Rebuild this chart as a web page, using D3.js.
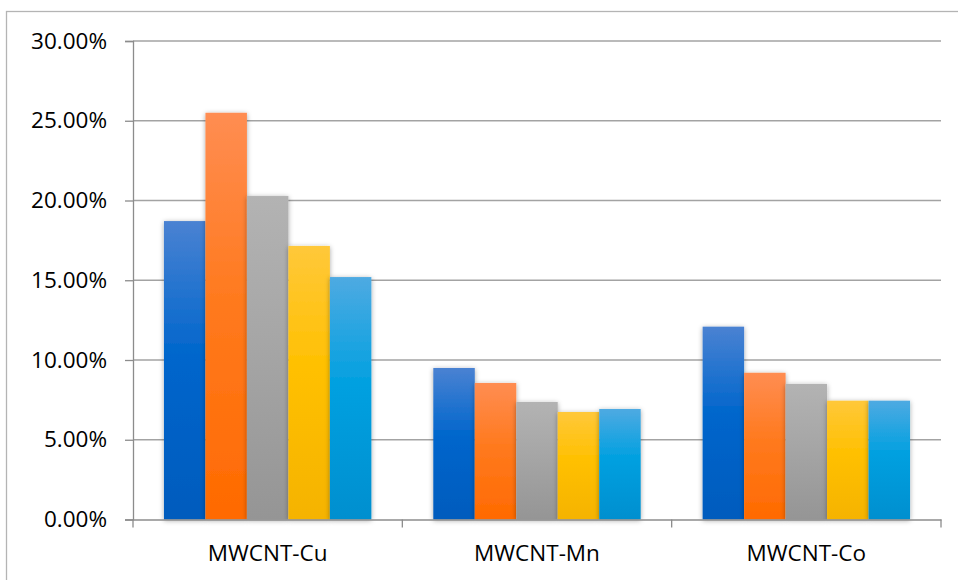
<!DOCTYPE html>
<html>
<head>
<meta charset="utf-8">
<script src="https://cdn.jsdelivr.net/npm/d3@7/dist/d3.min.js"></script>
<style>
  html, body { margin: 0; padding: 0; background: #fff; }
  svg { display: block; }
  text { font-family: "Open Sans", "Noto Sans", sans-serif; fill: #000; }
</style>
</head>
<body>
<svg id="chart" width="958" height="580"></svg>
<script>
// Categories and series values (fractions)
const categories = ["MWCNT-Cu", "MWCNT-Mn", "MWCNT-Co"];
const seriesNames = ["S1", "S2", "S3", "S4", "S5"];
const s1 = [0.1871, 0.0950, 0.1209];
const s2 = [0.2550, 0.0856, 0.0920];
const s3 = [0.2028, 0.0737, 0.0850];
const s4 = [0.1715, 0.0674, 0.0745];
const s5 = [0.1520, 0.0693, 0.0745];
const seriesValues = [s1, s2, s3, s4, s5];
const yTicks = [0, 0.05, 0.10, 0.15, 0.20, 0.25, 0.30];

// Gradient stops per series: top, middle, bottom
const palette = [
  ["#4a82d2", "#0066cc", "#005bbd"],
  ["#ff8d52", "#ff7a1f", "#ff6a00"],
  ["#b3b3b3", "#a6a6a6", "#959595"],
  ["#ffc83a", "#ffc000", "#f5b300"],
  ["#4eaae2", "#00a0e0", "#008fcf"]
];

const svg = d3.select("#chart");
const margin = { left: 133, right: 941, top: 41, bottom: 519.5 };

// Chart frame
svg.append("rect")
  .attr("x", 6.5).attr("y", 11.5)
  .attr("width", 970).attr("height", 600)
  .attr("fill", "none").attr("stroke", "#b4b4b4").attr("stroke-width", 1.3);

const defs = svg.append("defs");
palette.forEach((c, i) => {
  const g = defs.append("linearGradient")
    .attr("id", "grad" + i).attr("x1", 0).attr("y1", 0).attr("x2", 0).attr("y2", 1);
  g.append("stop").attr("offset", "0%").attr("stop-color", c[0]);
  g.append("stop").attr("offset", "45%").attr("stop-color", c[1]);
  g.append("stop").attr("offset", "100%").attr("stop-color", c[2]);
});
const shadow = defs.append("filter").attr("id", "shadow")
  .attr("x", "-30%").attr("y", "-10%").attr("width", "160%").attr("height", "120%");
shadow.append("feDropShadow")
  .attr("dx", 0).attr("dy", 1).attr("stdDeviation", 2.5)
  .attr("flood-color", "#000").attr("flood-opacity", 0.35);

const y = d3.scaleLinear().domain([0, 0.30]).range([margin.bottom, margin.top]);
const x0 = d3.scaleBand().domain(categories).range([margin.left, margin.right])
  .paddingInner(0.23).paddingOuter(0.115);
const x1 = d3.scaleBand().domain(seriesNames).range([0, x0.bandwidth()]);

// Horizontal gridlines
svg.append("g").selectAll("line").data(yTicks.slice(1)).join("line")
  .attr("x1", margin.left).attr("x2", margin.right)
  .attr("y1", d => y(d)).attr("y2", d => y(d))
  .attr("stroke", "#a3a3a3").attr("stroke-width", 1.5);

// Bars
const groups = svg.append("g").selectAll("g").data(categories).join("g")
  .attr("transform", d => `translate(${x0(d)},0)`);
groups.selectAll("rect")
  .data((c, ci) => seriesNames.map((s, si) => ({ s, si, v: seriesValues[si][ci] })))
  .join("rect")
  .attr("x", d => x1(d.s))
  .attr("y", d => y(d.v))
  .attr("width", x1.bandwidth())
  .attr("height", d => y(0) - y(d.v))
  .attr("fill", d => `url(#grad${d.si})`)
  .attr("filter", "url(#shadow)");

// Y axis
const yAxis = d3.axisLeft(y).tickValues(yTicks)
  .tickFormat(d => (d * 100).toFixed(2) + "%").tickSize(8).tickPadding(18);
const ya = svg.append("g").attr("transform", `translate(${margin.left},0)`).call(yAxis);
ya.select(".domain").attr("stroke", "#8c8c8c").attr("stroke-width", 1.3);
ya.selectAll(".tick line").attr("stroke", "#8c8c8c").attr("stroke-width", 1.3);
ya.selectAll(".tick text").attr("font-size", "22.5px")
  .attr("font-family", "'Open Sans', 'Noto Sans', sans-serif").attr("fill", "#000");

// X axis
const xAxis = d3.axisBottom(x0).tickSize(0).tickPadding(26);
const xa = svg.append("g").attr("transform", `translate(0,${margin.bottom})`).call(xAxis);
xa.select(".domain").attr("stroke", "#8c8c8c").attr("stroke-width", 1.3);
xa.selectAll(".tick text").attr("font-size", "22.5px")
  .attr("font-family", "'Open Sans', 'Noto Sans', sans-serif").attr("fill", "#000");

// Category boundary ticks
const step = x0.step();
const bounds = d3.range(categories.length + 1).map(i => margin.left + i * step);
xa.append("g").selectAll("line").data(bounds).join("line")
  .attr("x1", d => d).attr("x2", d => d).attr("y1", 0).attr("y2", 8)
  .attr("stroke", "#8c8c8c").attr("stroke-width", 1.3);
</script>
</body>
</html>
